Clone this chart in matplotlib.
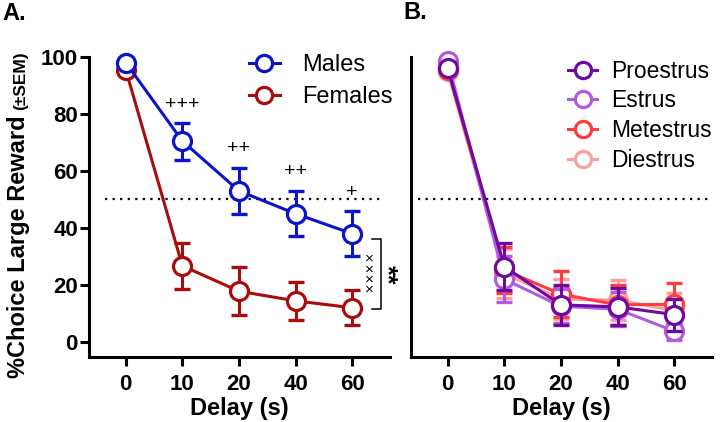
import matplotlib
matplotlib.use("Agg")
import matplotlib.pyplot as plt

plt.rcParams['font.family'] = ['Liberation Sans', 'DejaVu Sans']

delays = ["0", "10", "20", "40", "60"]

males = [98, 70.5, 53, 45, 38]
males_sem = [1.5, 6.5, 8, 8, 8]
females = [95.5, 26.7, 17.8, 14.4, 12]
females_sem = [1.5, 8, 8.4, 6.7, 6.1]

proestrus = [96, 26.4, 13, 12.3, 9.6]
proestrus_sem = [1.5, 8.2, 7, 6.5, 5.6]
estrus = [98.5, 22, 12.5, 11.5, 3.8]
estrus_sem = [1, 8, 6, 6, 3]
metestrus = [95.5, 25.2, 16.8, 13, 13.2]
metestrus_sem = [1.5, 8.2, 8, 7, 7.3]
diestrus = [95, 24, 15, 14.7, 11]
diestrus_sem = [1.5, 8.5, 7, 7, 6]

sig_plus = ["", "+++", "++", "++", "+"]
plus_y = [0, 83.5, 68, 59.8, 52.6]

C_M = "#0a14c8"
C_F = "#a80c0c"
C_PRO = "#6e0aa0"
C_EST = "#b45adc"
C_MET = "#ff3c3c"
C_DI = "#f8a0a0"

fig = plt.figure(figsize=(7.2, 4.22), dpi=100)
axA = fig.add_axes([89/720, 65/422, 301/720, 300/422])
axB = fig.add_axes([411/720, 65/422, 301/720, 300/422])

x = list(range(len(delays)))


def draw(ax, vals, sem, color, label):
    ax.errorbar(x, vals, yerr=sem, fmt='none', ecolor=color, elinewidth=2.2,
                capsize=6, capthick=2.4, clip_on=False)
    ax.plot(x, vals, color=color, lw=2.2, marker='o', ms=13, mfc='white',
            mec=color, mew=2.3, label=label, clip_on=False)


for ax in (axA, axB):
    for s in ("top", "right"):
        ax.spines[s].set_visible(False)
    for s in ("left", "bottom"):
        ax.spines[s].set_linewidth(2.2)
    ax.set_xlim(-0.65, 4.67)
    ax.set_ylim(-5.3, 100)
    ax.set_xticks(x)
    ax.set_xticklabels(delays, fontsize=16, fontweight='bold')
    ax.tick_params(axis='x', length=6.5, width=2.2, pad=6)
    ax.set_xlabel("Delay (s)", fontsize=17, fontweight='bold', labelpad=1)

axA.axhline(50, xmin=0.053, xmax=0.98, color='black', lw=1.6,
            linestyle=(0, (1, 2.4)))
axB.axhline(50, xmin=0.023, xmax=0.99, color='black', lw=1.6,
            linestyle=(0, (1, 2.4)))

# panel A
draw(axA, females, females_sem, C_F, "Females")
draw(axA, males, males_sem, C_M, "Males")
axA.set_yticks([0, 20, 40, 60, 80, 100])
axA.set_yticklabels(["0", "20", "40", "60", "80", "100"], fontsize=16,
                    fontweight='bold')
axA.tick_params(axis='y', length=6.5, width=2.2, pad=1.5)

for xi, s, yv in zip(x, sig_plus, plus_y):
    if s:
        axA.text(xi, yv, s, ha='center', va='center', fontsize=14)

# bracket between groups at 60 s
axA.plot([4.35, 4.51, 4.51, 4.35], [36.2, 36.2, 11.7, 11.7], color='black',
         lw=1.1, clip_on=False)
axA.text(4.30, 23.7, "×\n×\n×\n×", ha='center', va='center', fontsize=11,
         linespacing=0.68, clip_on=False)
axA.text(4.61, 23.5, "**", rotation=270, ha='center', va='center',
         fontsize=18, fontweight='bold', clip_on=False)

hA, lA = axA.get_legend_handles_labels()
axA.legend(hA[::-1], lA[::-1], loc='upper left', bbox_to_anchor=(0.5, 1.04),
           frameon=False, fontsize=17, handlelength=1.3, handletextpad=0.95,
           labelspacing=0.42, markerscale=0.9, borderaxespad=0)

# panel B
draw(axB, diestrus, diestrus_sem, C_DI, "Diestrus")
draw(axB, metestrus, metestrus_sem, C_MET, "Metestrus")
draw(axB, estrus, estrus_sem, C_EST, "Estrus")
draw(axB, proestrus, proestrus_sem, C_PRO, "Proestrus")
axB.set_yticks([])
hB, lB = axB.get_legend_handles_labels()
axB.legend(hB[::-1], lB[::-1], loc='upper left', bbox_to_anchor=(0.49, 1.022),
           frameon=False, fontsize=16.5, handlelength=1.3, handletextpad=0.6,
           labelspacing=0.3, markerscale=0.9, borderaxespad=0)

# y label with smaller (±SEM)
yl = fig.text(25/720, 1 - 378/422, "%Choice Large Reward", rotation=90,
              rotation_mode='anchor', ha='left', va='baseline', fontsize=17,
              fontweight='bold')
fig.canvas.draw()
bb = yl.get_window_extent()
fig.text(25/720, (bb.y1 + 5) / fig.bbox.height, "(±SEM)", rotation=90,
         rotation_mode='anchor', ha='left', va='baseline', fontsize=12.5,
         fontweight='bold')

fig.text(2/720, 1 - 20/422, "A.", fontsize=17, fontweight='bold',
         va='baseline')
fig.text(403/720, 1 - 19/422, "B.", fontsize=17, fontweight='bold',
         va='baseline')

fig.savefig("out.png", dpi=100)
